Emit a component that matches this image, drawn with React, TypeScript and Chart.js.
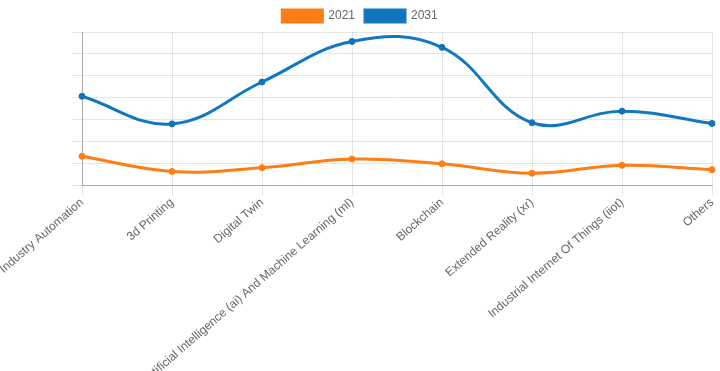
import React, { useEffect, useRef } from "react";
import { Chart, registerables } from "chart.js";

Chart.register(...registerables);

const categories = [
  "Industry Automation",
  "3d Printing",
  "Digital Twin",
  "Artificial Intelligence (ai) And Machine Learning (ml)",
  "Blockchain",
  "Extended Reality (xr)",
  "Industrial Internet Of Things (iiot)",
  "Others",
];
const values2021 = [13.3, 6.4, 8.1, 12.1, 9.9, 5.6, 9.2, 7.2];
const values2031 = [40.7, 28.1, 47.2, 65.7, 63.0, 28.6, 33.9, 28.3];
const seriesLabels = ["2021", "2031"];

const FONT = "Arial, 'Liberation Sans', Helvetica, sans-serif";

export default function App() {
  const ref = useRef<HTMLCanvasElement | null>(null);
  useEffect(() => {
    if (!ref.current) return;
    const chart = new Chart(ref.current, {
      type: "line",
      data: {
        labels: categories,
        datasets: [
          {
            label: seriesLabels[0],
            data: values2021,
            borderColor: "#fd7e14",
            backgroundColor: "#fd7e14",
            borderWidth: 3,
            pointRadius: 3,
            pointBorderWidth: 1,
            pointBackgroundColor: "#fd7e14",
            pointBorderColor: "#fd7e14",
            fill: false,
            tension: 0.4,
          },
          {
            label: seriesLabels[1],
            data: values2031,
            borderColor: "#1178bf",
            backgroundColor: "#0f74bb",
            borderWidth: 3,
            pointRadius: 3,
            pointBorderWidth: 1,
            pointBackgroundColor: "#0f74bb",
            pointBorderColor: "#0f74bb",
            fill: false,
            tension: 0.4,
          },
        ],
      },
      options: {
        animation: false,
        responsive: true,
        maintainAspectRatio: false,
        layout: { padding: 0 },
        plugins: {
          legend: {
            labels: {
              boxWidth: 40,
              boxHeight: 12,
              color: "#666",
              font: { size: 12, family: FONT },
            },
          },
          tooltip: { enabled: false },
        },
        scales: {
          x: {
            grid: { color: "rgba(0,0,0,0.1)", tickLength: 10 },
            border: { color: "rgba(0,0,0,0.25)" },
            afterFit: (scale: any) => {
              scale.paddingLeft = 82;
              scale.paddingRight = 8;
            },
            ticks: {
              minRotation: 41,
              maxRotation: 41,
              autoSkip: false,
              padding: 0,
              color: "#666",
              font: { size: 12, family: FONT },
            },
          },
          y: {
            min: 0,
            max: 70,
            grid: { color: "rgba(0,0,0,0.1)", tickLength: 10 },
            border: { color: "rgba(0,0,0,0.25)" },
            ticks: { display: false, stepSize: 10 },
          },
        },
      },
    });
    return () => chart.destroy();
  }, []);
  return (
    <div style={{ position: "fixed", left: 0, top: 0, width: 720, height: 371 }}>
      <canvas ref={ref} />
    </div>
  );
}
